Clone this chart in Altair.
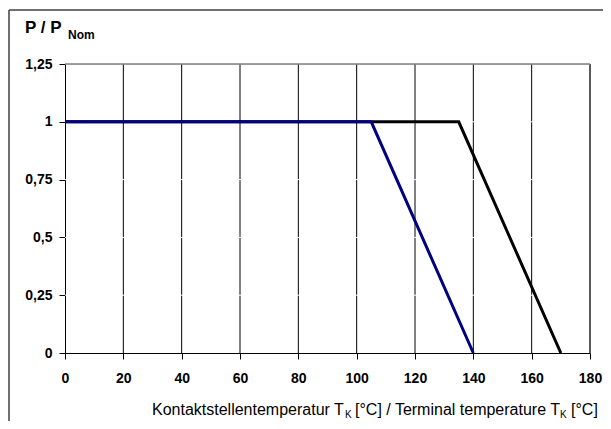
import altair as alt
import pandas as pd

# Data
x_ticks = [0, 20, 40, 60, 80, 100, 120, 140, 160, 180]
y_ticks = [0, 0.25, 0.5, 0.75, 1.0, 1.25]
x_grid = [20, 40, 60, 80, 100, 120, 140, 160]
y_grid = [0.25, 0.5, 0.75, 1.0]

temp_black = [0, 135, 170]
p_black = [1.0, 1.0, 0.0]
temp_blue = [0, 105, 140]
p_blue = [1.0, 1.0, 0.0]

FONT = "Liberation Sans"

xscale = alt.Scale(domain=[0, 180], nice=False, zero=False)
yscale = alt.Scale(domain=[0, 1.25], nice=False, zero=False)

xaxis = alt.Axis(values=x_ticks, title=None, grid=False, domainColor="black", domainWidth=1,
                 tickColor="black", tickSize=6, tickWidth=1, labelFont=FONT, labelFontSize=14,
                 labelFontWeight="bold", labelColor="black", labelPadding=12, labelFlush=False,
                 labelOverlap=False)
yaxis = alt.Axis(values=y_ticks, title=None, grid=False, domainColor="black", domainWidth=1,
                 tickColor="black", tickSize=6, tickWidth=1, labelFont=FONT, labelFontSize=14,
                 labelFontWeight="bold", labelColor="black", labelPadding=7,
                 labelExpr="replace(toString(datum.value), '.', ',')", labelOverlap=False)

X = lambda f: alt.X(f, type="quantitative", scale=xscale, axis=xaxis)
Y = lambda f: alt.Y(f, type="quantitative", scale=yscale, axis=yaxis)

vgrid = alt.Chart(pd.DataFrame({"x": x_grid})).mark_rule(color="black", strokeWidth=1).encode(x=X("x"))
hgrid = alt.Chart(pd.DataFrame({"y": y_grid})).mark_rule(color="white", strokeWidth=1).encode(y=Y("y"))
right_border = alt.Chart(pd.DataFrame({"x": [180]})).mark_rule(color="#5a5a5a", strokeWidth=2).encode(x=X("x"))
top_border = alt.Chart(pd.DataFrame({"y": [1.25]})).mark_rule(color="#808080", strokeWidth=1.5).encode(y=Y("y"))

line_black = alt.Chart(pd.DataFrame({"T": temp_black, "P": p_black})).mark_line(
    color="black", strokeWidth=3, clip=False).encode(x=X("T"), y=Y("P"))
line_blue = alt.Chart(pd.DataFrame({"T": temp_blue, "P": p_blue})).mark_line(
    color="#000080", strokeWidth=3, clip=False).encode(x=X("T"), y=Y("P"))

def txt(s, x, y, size, weight="normal", align="left"):
    return alt.Chart(pd.DataFrame({"t": [s]})).mark_text(
        font=FONT, fontSize=size, fontWeight=weight, align=align, baseline="alphabetic",
        color="black").encode(x=alt.value(x), y=alt.value(y), text="t:N")

title1 = txt("P / P", -40, -31, 17, "bold")
title2 = txt("Nom", 3, -25, 12, "bold")
xt1 = txt("Kontaktstellentemperatur T", 87, 351, 16)
xt2 = txt("K", 280, 354, 10)
xt3 = txt("[°C] / Terminal temperature T", 290, 351, 16)
xt4 = txt("K", 495, 354, 10)
xt5 = txt("[°C]", 506, 351, 16)

# outer frame of the figure
frame_top = alt.Chart(pd.DataFrame({"a": [0]})).mark_rule(color="#404040", strokeWidth=1.5).encode(
    x=alt.value(-56), x2=alt.value(540), y=alt.value(-54))
frame_left = alt.Chart(pd.DataFrame({"a": [0]})).mark_rule(color="#404040", strokeWidth=1.5).encode(
    x=alt.value(-56), y=alt.value(-54), y2=alt.value(380))

chart = alt.layer(
    vgrid, hgrid, right_border, top_border, line_black, line_blue,
    title1, title2, xt1, xt2, xt3, xt4, xt5, frame_top, frame_left
).properties(
    width=525, height=289,
    padding={"left": 57, "top": 56, "right": 13, "bottom": 68},
    autosize=alt.AutoSizeParams(type="none"),
).configure_view(stroke=None, fill="#C0C0C0").configure(background="white")

chart.save("out.html", embed_options={"renderer": "svg", "actions": False})
